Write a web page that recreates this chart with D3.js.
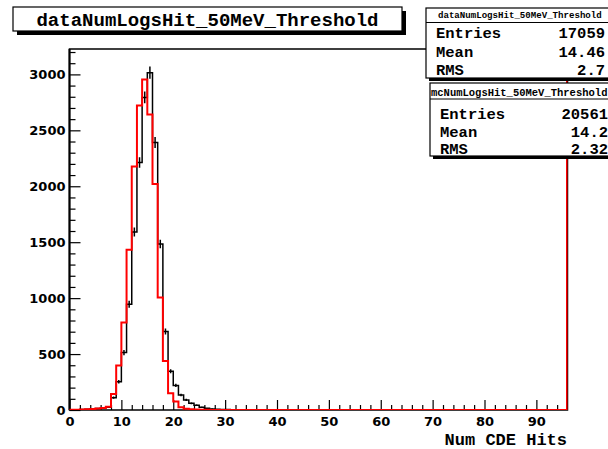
<!DOCTYPE html>
<html>
<head>
<meta charset="utf-8">
<script src="https://cdn.jsdelivr.net/npm/d3@7"></script>
<style>
  body { margin: 0; background: #fff; }
  svg { display: block; }
</style>
</head>
<body>
<svg id="svgx" width="608" height="449"></svg>
<script>
// bin contents, bins of width 1 from 0 to 96
var dataCounts = [
  2, 3, 4, 6, 10, 14, 18, 24, 110, 253,
  513, 945, 1591, 2212, 2794, 3015, 2391, 1484, 701, 346,
  220, 134, 90, 60, 42, 24, 15, 10, 7, 5,
  4, 3, 2, 2, 1, 1, 0, 0, 0, 0,
  0, 0, 0, 0, 0, 0, 0, 0, 0, 0,
  0, 0, 0, 0, 0, 0, 0, 0, 0, 0,
  0, 0, 0, 0, 0, 0, 0, 0, 0, 0,
  0, 0, 0, 0, 0, 0, 0, 0, 0, 0,
  0, 0, 0, 0, 0, 0, 0, 0, 0, 0,
  0, 0, 0, 0, 0, 0
];
var mcCounts = [
  3, 3, 4, 6, 9, 13, 18, 30, 143, 397,
  782, 1433, 2176, 2722, 2955, 2642, 2021, 1006, 439, 150,
  75, 24, 12, 6, 4, 3, 2, 1, 0, 0,
  0, 0, 0, 0, 0, 0, 0, 0, 0, 0,
  0, 0, 0, 0, 0, 0, 0, 0, 0, 0,
  0, 0, 0, 0, 0, 0, 0, 0, 0, 0,
  0, 0, 0, 0, 0, 0, 0, 0, 0, 0,
  0, 0, 0, 0, 0, 0, 0, 0, 0, 0,
  0, 0, 0, 0, 0, 0, 0, 0, 0, 0,
  0, 0, 0, 0, 0, 0
];
var xTicks = [0, 10, 20, 30, 40, 50, 60, 70, 80, 90];
var yTicks = [0, 500, 1000, 1500, 2000, 2500, 3000];
var title = "dataNumLogsHit_50MeV_Threshold";
var xTitle = "Num CDE Hits";
var statsData = [["Entries", "17059"], ["Mean", "14.46"], ["RMS", "2.7"]];
var statsMc = [["Entries", "20561"], ["Mean", "14.2"], ["RMS", "2.32"]];

var xmin = 0, xmax = 96, ymax = 3227;
var frame = {left: 69.5, right: 567.5, top: 49, bottom: 410};
var mono = "'Liberation Mono', 'Courier New', monospace";
var sans = "'DejaVu Sans', Verdana, sans-serif";

var svg = d3.select('#svgx');

var x = d3.scaleLinear().domain([xmin, xmax]).range([frame.left, frame.right]);
var y = d3.scaleLinear().domain([0, ymax]).range([frame.bottom, frame.top]);

svg.append('defs').append('clipPath').attr('id', 'frameclip')
  .append('rect')
  .attr('x', frame.left).attr('y', frame.top)
  .attr('width', frame.right - frame.left)
  .attr('height', frame.bottom - frame.top);

// frame
svg.append('rect')
  .attr('x', frame.left).attr('y', frame.top)
  .attr('width', frame.right - frame.left)
  .attr('height', frame.bottom - frame.top)
  .attr('fill', 'none')
  .attr('stroke', 'black')
  .attr('stroke-width', 1.5);

// x axis: major and minor ticks pointing up into the frame
var xMinor = d3.range(0, 96, 2).filter(function(v) { return v % 10 !== 0; });
svg.append('g')
  .attr('transform', `translate(0,${frame.bottom})`)
  .call(d3.axisBottom(x).tickValues(xMinor).tickSize(-5).tickFormat(''))
  .call(g => g.select('.domain').remove());
svg.append('g')
  .attr('class', 'xaxis')
  .attr('transform', `translate(0,${frame.bottom})`)
  .call(d3.axisBottom(x).tickValues(xTicks).tickSize(-10).tickPadding(7).tickFormat(d3.format('d')))
  .call(g => g.select('.domain').remove());

// y axis
var yMinor = d3.range(0, ymax, 100).filter(function(v) { return v % 500 !== 0; });
svg.append('g')
  .attr('transform', `translate(${frame.left},0)`)
  .call(d3.axisLeft(y).tickValues(yMinor).tickSize(-6).tickFormat(''))
  .call(g => g.select('.domain').remove());
svg.append('g')
  .attr('class', 'yaxis')
  .attr('transform', `translate(${frame.left},0)`)
  .call(d3.axisLeft(y).tickValues(yTicks).tickSize(-11).tickPadding(4).tickFormat(d3.format('d')))
  .call(g => g.select('.domain').remove());

svg.selectAll('.tick line').attr('stroke', 'black').attr('stroke-width', 1.2);
svg.selectAll('.xaxis text, .yaxis text')
  .style('font-family', sans)
  .style('font-weight', 700)
  .style('font-size', '13px')
  .attr('fill', 'black');

svg.append('line')
  .attr('x1', frame.left).attr('x2', frame.left)
  .attr('y1', frame.top).attr('y2', frame.bottom)
  .attr('stroke', 'black').attr('stroke-width', 2);

// step histograms
function stepPath(counts) {
  var pts = [[x(0), y(0)]];
  counts.forEach(function(v, i) {
    pts.push([x(i), y(v)]);
    pts.push([x(i + 1), y(v)]);
  });
  pts.push([x(counts.length), y(0)]);
  return d3.line()(pts);
}

var plot = svg.append('g').attr('clip-path', 'url(#frameclip)');

plot.append('path')
  .attr('d', stepPath(dataCounts))
  .attr('fill', 'none')
  .attr('stroke', 'black')
  .attr('stroke-width', 1.5);

plot.selectAll('.err')
  .data(dataCounts.map(function(v, i) { return {i: i, v: v}; }).filter(d => d.v > 0))
  .enter()
  .append('line')
  .attr('class', 'err')
  .attr('x1', d => x(d.i + 0.5)).attr('x2', d => x(d.i + 0.5))
  .attr('y1', d => y(d.v - Math.sqrt(d.v)))
  .attr('y2', d => y(d.v + Math.sqrt(d.v)))
  .attr('stroke', 'black')
  .attr('stroke-width', 1.5);

plot.append('path')
  .attr('d', stepPath(mcCounts))
  .attr('fill', 'none')
  .attr('stroke', '#ff0000')
  .attr('stroke-width', 2);

// red edge along the right side of the frame
plot.append('line')
  .attr('x1', x(xmax) - 0.5).attr('x2', x(xmax) - 0.5)
  .attr('y1', y(0)).attr('y2', y(ymax))
  .attr('stroke', '#ff0000')
  .attr('stroke-width', 2);

// x axis title
svg.append('text')
  .attr('x', 567).attr('y', 445)
  .attr('text-anchor', 'end')
  .style('font-family', mono)
  .style('font-weight', 700)
  .style('font-size', '17px')
  .text(xTitle);

// title box
var tb = {x: 13, y: 7, w: 389, h: 24};
svg.append('rect')
  .attr('x', tb.x + 4).attr('y', tb.y + 4)
  .attr('width', tb.w).attr('height', tb.h)
  .attr('fill', 'black');
svg.append('rect')
  .attr('x', tb.x).attr('y', tb.y)
  .attr('width', tb.w).attr('height', tb.h)
  .attr('fill', 'white')
  .attr('stroke', 'black')
  .attr('stroke-width', 1.2);
svg.append('text')
  .attr('x', tb.x + tb.w / 2).attr('y', tb.y + tb.h / 2)
  .attr('dy', '0.35em')
  .attr('text-anchor', 'middle')
  .style('font-family', mono)
  .style('font-weight', 700)
  .style('font-size', '19px')
  .text(title);

// stats boxes
function statsBox(bx, name, rows) {
  var g = svg.append('g');
  g.append('rect')
    .attr('x', bx.x + 3).attr('y', bx.y + 3)
    .attr('width', bx.w).attr('height', bx.h)
    .attr('fill', 'black');
  g.append('rect')
    .attr('x', bx.x).attr('y', bx.y)
    .attr('width', bx.w).attr('height', bx.h)
    .attr('fill', 'white')
    .attr('stroke', 'black')
    .attr('stroke-width', 1.2);
  g.append('line')
    .attr('x1', bx.x).attr('x2', bx.x + bx.w)
    .attr('y1', bx.sep).attr('y2', bx.sep)
    .attr('stroke', 'black').attr('stroke-width', 1.2);
  g.append('text')
    .attr('x', bx.titleX).attr('y', bx.titleY)
    .attr('dy', '0.35em')
    .attr('text-anchor', 'start')
    .style('font-family', mono)
    .style('font-weight', 700)
    .style('font-size', bx.titleSize + 'px')
    .text(name);
  rows.forEach(function(r, i) {
    g.append('text')
      .attr('x', bx.labelX).attr('y', bx.rowY[i])
      .attr('dy', '0.35em')
      .style('font-family', mono)
      .style('font-weight', 700)
      .style('font-size', '15.5px')
      .text(r[0]);
    g.append('text')
      .attr('x', bx.valueX).attr('y', bx.rowY[i])
      .attr('dy', '0.35em')
      .attr('text-anchor', 'end')
      .style('font-family', mono)
      .style('font-weight', 700)
      .style('font-size', '15.5px')
      .text(r[1]);
  });
}

statsBox({x: 426, y: 8, w: 189, h: 70, sep: 22.5, titleX: 438, titleY: 14.5, titleSize: 9.1,
          labelX: 436, valueX: 605, rowY: [33, 51.5, 69.5]},
         "dataNumLogsHit_50MeV_Threshold", statsData);
statsBox({x: 430, y: 83, w: 187, h: 73, sep: 99, titleX: 431, titleY: 92, titleSize: 10.5,
          labelX: 440, valueX: 608, rowY: [114, 131.5, 149]},
         "mcNumLogsHit_50MeV_Threshold", statsMc);
</script>
</body>
</html>
